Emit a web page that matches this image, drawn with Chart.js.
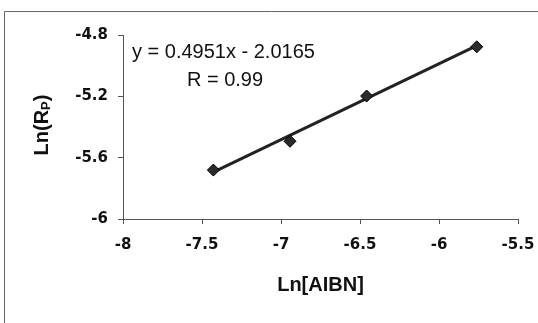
<!DOCTYPE html>
<html>
<head>
<meta charset="utf-8">
<script src="https://cdn.jsdelivr.net/npm/chart.js@4/dist/chart.umd.min.js"></script>
<style>
html,body{margin:0;padding:0;background:#fff;}
#wrap{width:538px;height:323px;position:relative;}
</style>
</head>
<body>
<div id="wrap"><canvas id="c" width="538" height="323"></canvas></div>
<script>
// Data
const lnAIBN = [-7.428, -6.943, -6.458, -5.761];
const lnRp   = [-5.681, -5.493, -5.198, -4.877];
// Trendline end points
const trendX = [-7.428, -5.761];
const trendY = [-5.694, -4.869];
const xTicks = [-8, -7.5, -7, -6.5, -6, -5.5];
const yTicks = [-6, -5.6, -5.2, -4.8];
const equationText = 'y = 0.4951x - 2.0165';
const rText = 'R = 0.99';
const xTitle = 'Ln[AIBN]';
const yTitleMain = 'Ln(R';
const yTitleSub = 'P';
const yTitleEnd = ')';

const frame = {
  id: 'frame',
  beforeDraw(chart) {
    const ctx = chart.ctx;
    ctx.save();
    ctx.fillStyle = '#fff';
    ctx.fillRect(0, 0, chart.width, chart.height);
    ctx.strokeStyle = '#666';
    ctx.lineWidth = 1;
    ctx.beginPath();
    ctx.moveTo(4.5, 330);
    ctx.lineTo(4.5, 11.5);
    ctx.lineTo(538, 11.5);
    ctx.stroke();
    ctx.restore();
  },
  afterDraw(chart) {
    const ctx = chart.ctx;
    ctx.save();
    ctx.fillStyle = '#111';
    // equation annotation
    ctx.font = '20px "Liberation Sans", Arial, sans-serif';
    ctx.textBaseline = 'middle';
    ctx.textAlign = 'left';
    ctx.fillText(equationText, 132, 52);
    ctx.textAlign = 'center';
    ctx.fillText(rText, 225, 80);
    // y axis title with subscript
    ctx.translate(41, 125);
    ctx.rotate(-Math.PI / 2);
    const big = 'bold 20px "Liberation Sans", Arial, sans-serif';
    const small = 'bold 13px "Liberation Sans", Arial, sans-serif';
    ctx.font = big;
    const w1 = ctx.measureText(yTitleMain).width;
    const w3 = ctx.measureText(yTitleEnd).width;
    ctx.font = small;
    const w2 = ctx.measureText(yTitleSub).width;
    let x0 = -(w1 + w2 + w3) / 2;
    ctx.textAlign = 'left';
    ctx.textBaseline = 'alphabetic';
    ctx.font = big;
    ctx.fillText(yTitleMain, x0, 7);
    ctx.font = small;
    ctx.fillText(yTitleSub, x0 + w1, 9);
    ctx.font = big;
    ctx.fillText(yTitleEnd, x0 + w1 + w2, 7);
    ctx.restore();
  }
};

const fmt = v => String(v);

new Chart(document.getElementById('c'), {
  type: 'scatter',
  data: {
    datasets: [
      {
        label: 'trend',
        data: trendX.map((x, i) => ({x, y: trendY[i]})),
        showLine: true,
        borderColor: '#222',
        borderWidth: 3,
        pointRadius: 0,
        order: 2
      },
      {
        label: 'data',
        data: lnAIBN.map((x, i) => ({x, y: lnRp[i]})),
        pointStyle: 'rectRot',
        pointRadius: 6,
        backgroundColor: '#2a2a2a',
        borderColor: '#000',
        borderWidth: 1,
        order: 1
      }
    ]
  },
  options: {
    responsive: false,
    animation: false,
    layout: { padding: { left: 0, right: 0, top: 35, bottom: 0 } },
    plugins: { legend: { display: false }, tooltip: { enabled: false } },
    scales: {
      x: {
        type: 'linear',
        min: xTicks[0], max: xTicks[xTicks.length - 1],
        afterBuildTicks(s) { s.ticks = xTicks.map(v => ({value: v})); },
        afterFit(s) { s.height = 104; s.paddingRight = 20; s.paddingLeft = 0; },
        grid: { drawOnChartArea: false, drawTicks: true, tickLength: 5, color: '#555' },
        border: { display: true, color: '#555', width: 1 },
        ticks: {
          color: '#111',
          padding: 12,
          maxRotation: 0,
          callback: fmt,
          font: { family: '"DejaVu Sans"', size: 15, weight: 'bold' }
        },
        title: {
          display: true,
          text: xTitle,
          color: '#111',
          padding: { top: 16, bottom: 26 },
          font: { family: '"Liberation Sans", Arial', size: 20, weight: 'bold' }
        }
      },
      y: {
        type: 'linear',
        min: yTicks[0], max: yTicks[yTicks.length - 1],
        afterBuildTicks(s) { s.ticks = yTicks.map(v => ({value: v})); },
        afterFit(s) { s.width = 123; s.paddingTop = 0; s.paddingBottom = 0; },
        grid: { drawOnChartArea: false, drawTicks: true, tickLength: 5, color: '#555' },
        border: { display: true, color: '#555', width: 1 },
        ticks: {
          color: '#111',
          padding: 10,
          callback: fmt,
          font: { family: '"DejaVu Sans"', size: 15, weight: 'bold' }
        }
      }
    }
  },
  plugins: [frame]
});
</script>
</body>
</html>
